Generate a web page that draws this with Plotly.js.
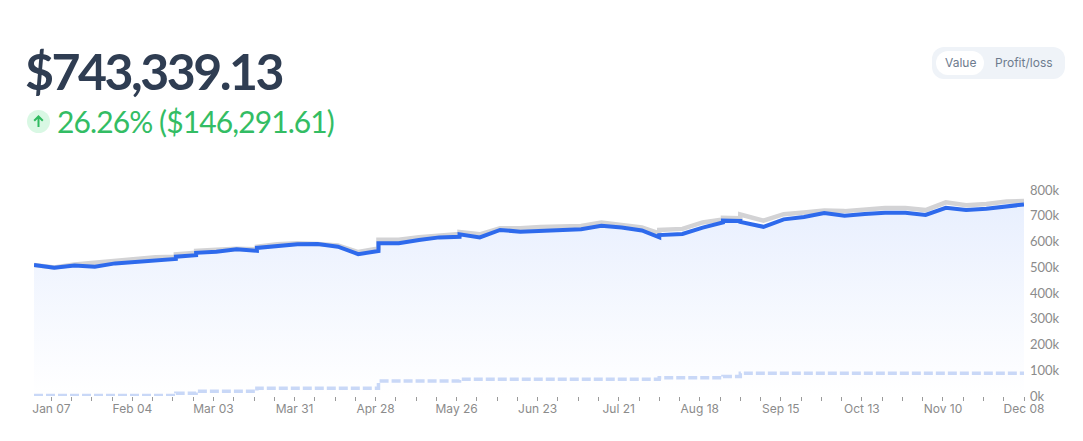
<!DOCTYPE html>
<html>
<head>
<meta charset="utf-8">
<script src="https://cdn.plot.ly/plotly-3.0.1.min.js"></script>
<style>
  html, body { margin: 0; padding: 0; background: #fff; }
  #wrap { position: relative; width: 1083px; height: 441px; overflow: hidden; }
  #chart { position: absolute; left: 0; top: 0; width: 1083px; height: 441px; }
  .txt { position: absolute; white-space: nowrap; font-family: Lato, sans-serif; }
  #total { left: 25px; top: 41px; font-size: 50px; font-weight: 700; color: #2f3d52; line-height: 60px; letter-spacing: -2.5px; }
  #change { left: 57px; top: 102px; font-size: 30px; color: #33bd64; line-height: 38px; letter-spacing: -0.9px; }
  #arrow { position: absolute; left: 27px; top: 110px; width: 23px; height: 23px; }
  #toggle { position: absolute; left: 932px; top: 47px; width: 133px; height: 32px; background: #eff3f8; border-radius: 12px; }
  #pill { position: absolute; left: 936px; top: 51px; width: 48px; height: 24px; background: #fff; border-radius: 12px; }
  .btn { top: 55px; font-family: Inter, sans-serif; font-size: 12px; line-height: 16px; color: #6d7b8e; }
</style>
</head>
<body>
<div id="wrap">
  <div id="chart"></div>
  <div id="total" class="txt">$743,339.13</div>
  <svg id="arrow" viewBox="0 0 23 23">
    <circle cx="11.5" cy="11.5" r="11.5" fill="#d9f8e4"></circle>
    <path d="M11.5 17V6.5M7.2 10.8l4.3-4.3 4.3 4.3" fill="none" stroke="#2fbb60" stroke-width="2"></path>
  </svg>
  <div id="change" class="txt">26.26% ($146,291.61)</div>
  <div id="toggle"></div>
  <div id="pill"></div>
  <div class="txt btn" style="left:945px">Value</div>
  <div class="txt btn" style="left:995px">Profit/loss</div>
</div>
<script>
var dates = ['2024-01-01','2024-01-08','2024-01-15','2024-01-22','2024-01-29','2024-02-05','2024-02-12','2024-02-19','2024-02-19',
  '2024-02-26','2024-02-26','2024-03-04','2024-03-11','2024-03-18','2024-03-18','2024-03-25','2024-04-01','2024-04-08','2024-04-15',
  '2024-04-22','2024-04-29','2024-04-29','2024-05-06','2024-05-13','2024-05-20','2024-05-27','2024-05-27','2024-06-03','2024-06-10',
  '2024-06-17','2024-06-24','2024-07-01','2024-07-08','2024-07-15','2024-07-22','2024-07-29','2024-08-04','2024-08-04','2024-08-12',
  '2024-08-19','2024-08-26','2024-08-26','2024-09-01','2024-09-01','2024-09-09','2024-09-16','2024-09-23','2024-09-30','2024-10-07',
  '2024-10-14','2024-10-21','2024-10-28','2024-11-04','2024-11-11','2024-11-18','2024-11-25','2024-12-02','2024-12-08'];

// portfolio value
var value = [509,498,507,502,515,521,525,532,541,547,556,560,570,564,575,582,589,590,580,
  551,563,593,593,606,616,618,628,616,645,638,641,642,648,661,654,643,616,625,629,
  654,674,681,680,676,657,686,695,711,700,707,712,712,703,731,722,727,738,744];

// same dates, grey line behind the blue one
var cost = [509,499,511,518,525,533,539,541,550,556,564,568,572,570,580,589,593,590,585,
  559,573,607,607,617,625,629,637,628,651,651,656,659,660,674,664,655,632,645,649,
  674,686,692,690,705,681,706,713,720,718,726,730,730,722,752,741,746,755,757];

// money put in, steps up at each deposit
var invested = [2,2,2,2,2,2,2,2,11,11,18,18,18,18,30,30,30,30,30,
  30,30,58,58,58,58,58,65,65,65,65,65,65,65,65,65,65,65,71,71,
  71,71,76,76,88,88,88,88,88,88,88,88,88,88,88,88,88,88,88];

var yTicks = [0,100000,200000,300000,400000,500000,600000,700000,800000];
var yLabels = ['0k','100k','200k','300k','400k','500k','600k','700k','800k'];

function k(a){ return a.map(function(v){ return v*1000 }) }

var data = [{
  x: dates, y: k(value), mode: 'lines', line: {width: 0}, fill: 'tozeroy',
  fillgradient: {type: 'vertical', colorscale: [[0,'rgba(255,255,255,0.9)'],[1,'#e8effe']]},
  hoverinfo: 'skip'
},{
  x: dates, y: k(cost), mode: 'lines', line: {color: '#d3d3d5', width: 4.5}
},{
  x: dates, y: k(invested), mode: 'lines', line: {color: '#c9d8f7', width: 3.5, dash: '9px,3px'}
},{
  x: dates, y: k(value), mode: 'lines', line: {color: '#2e6aec', width: 4}
}];

var layout = {
  width: 1083, height: 441,
  margin: {l: 34, r: 59, t: 190, b: 45},
  showlegend: false,
  paper_bgcolor: '#fff', plot_bgcolor: '#fff',
  xaxis: {
    type: 'date',
    range: ['2024-01-01','2024-12-08'],
    tick0: '2024-01-07', dtick: 28*864e5, tickformat: '%b %d',
    ticks: 'outside', ticklen: 4, tickwidth: 1, tickcolor: '#9a9a9a', ticklabelstandoff: -2,
    minor: {tick0: '2024-01-07', dtick: 7*864e5, ticks: 'outside', ticklen: 4, tickwidth: 1, tickcolor: '#9a9a9a', showgrid: false},
    showgrid: false, zeroline: false, showline: false,
    tickfont: {family: 'Inter, sans-serif', size: 12, color: '#8b8b8b'}
  },
  yaxis: {
    side: 'right', range: [0, 800000],
    tickvals: yTicks, ticktext: yLabels, ticklabelstandoff: 5,
    showgrid: false, zeroline: false, showline: false, ticks: '',
    tickfont: {family: 'Lato, sans-serif', size: 13, color: '#8b8b8b'}
  }
};

Plotly.newPlot('chart', data, layout, {displayModeBar: false});
</script>
</body>
</html>
